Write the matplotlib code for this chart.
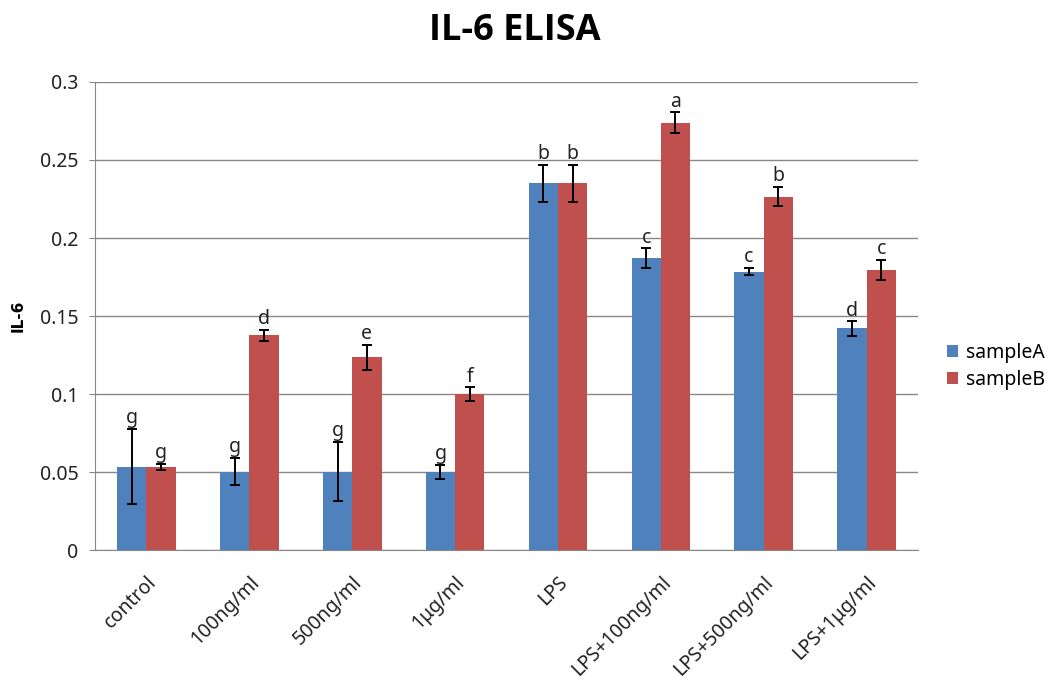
import matplotlib
matplotlib.use("Agg")
import matplotlib.pyplot as plt
import numpy as np

plt.rcParams['font.family'] = ['Noto Sans', 'DejaVu Sans']

categories = ["control", "100ng/ml", "500ng/ml", "1\u03bcg/ml", "LPS",
              "LPS+100ng/ml", "LPS+500ng/ml", "LPS+1\u03bcg/ml"]
sampleA = [0.0534, 0.0502, 0.0502, 0.0500, 0.235, 0.187, 0.1784, 0.142]
sampleA_err = [0.024, 0.0087, 0.019, 0.0045, 0.012, 0.0064, 0.0022, 0.0045]
sampleB = [0.0534, 0.1378, 0.1237, 0.1000, 0.235, 0.274, 0.2265, 0.1795]
sampleB_err = [0.0018, 0.0035, 0.008, 0.0043, 0.012, 0.0065, 0.0063, 0.0067]
lettersA = ["g", "g", "g", "g", "b", "c", "c", "d"]
lettersB = ["g", "d", "e", "f", "b", "a", "b", "c"]
yticks = [0, 0.05, 0.1, 0.15, 0.2, 0.25, 0.3]
ytick_labels = ["0", "0.05", "0.1", "0.15", "0.2", "0.25", "0.3"]

fig = plt.figure(figsize=(10.58, 6.89), dpi=100)
ax = fig.add_axes([0.0898, 0.2017, 0.7779, 0.6793])

x = np.arange(len(categories))
w = 0.285
colA = "#4F81BD"
colB = "#C0504D"
ax.bar(x - w/2, sampleA, w, color=colA, label="sampleA", zorder=2)
ax.bar(x + w/2, sampleB, w, color=colB, label="sampleB", zorder=2)
ax.errorbar(x - w/2, sampleA, yerr=sampleA_err, fmt='none', ecolor='black',
            elinewidth=1.4, capsize=3.5, capthick=1.4, zorder=3)
ax.errorbar(x + w/2, sampleB, yerr=sampleB_err, fmt='none', ecolor='black',
            elinewidth=1.4, capsize=3.5, capthick=1.4, zorder=3)

for xi, v, e, t in zip(x - w/2, sampleA, sampleA_err, lettersA):
    ax.text(xi, v + e + 0.0005, t, ha='center', va='bottom', fontsize=14, color='#222222')
for xi, v, e, t in zip(x + w/2, sampleB, sampleB_err, lettersB):
    ax.text(xi, v + e + 0.0005, t, ha='center', va='bottom', fontsize=14, color='#222222')

ax.set_xlim(-0.5, len(categories) - 0.5)
ax.set_ylim(0, 0.3)
ax.set_yticks(yticks)
ax.set_yticklabels(ytick_labels, fontsize=14, color='#222222')
ax.set_xticks(x)
ax.set_xticklabels(categories, rotation=45, ha='right', rotation_mode='anchor',
                   fontsize=14, color='#222222')
ax.tick_params(axis='x', length=0, pad=16)
ax.tick_params(axis='y', length=4, color='#888888', pad=8)
ax.yaxis.grid(True, color='#888888', linewidth=1.0, zorder=0)
ax.set_axisbelow(True)
for s in ['top', 'right']:
    ax.spines[s].set_visible(False)
for s in ['left', 'bottom']:
    ax.spines[s].set_color('#888888')

fig.text(18/1058, 1 - 316/689, "IL-6", rotation=90, ha='center', va='center',
         fontsize=11, fontweight='bold', family=['DejaVu Sans'])

fig.text(0.4865, 0.955, "IL-6 ELISA", ha='center', va='center', fontsize=26,
         fontweight='bold', family=['Open Sans', 'DejaVu Sans'])

ax.legend(loc='center left', bbox_to_anchor=(1.035, 0.392), frameon=False, fontsize=14,
          handlelength=0.6, handleheight=0.6, handletextpad=0.4, labelspacing=0.35,
          borderaxespad=0, borderpad=0)

fig.savefig("out.png", dpi=100)
